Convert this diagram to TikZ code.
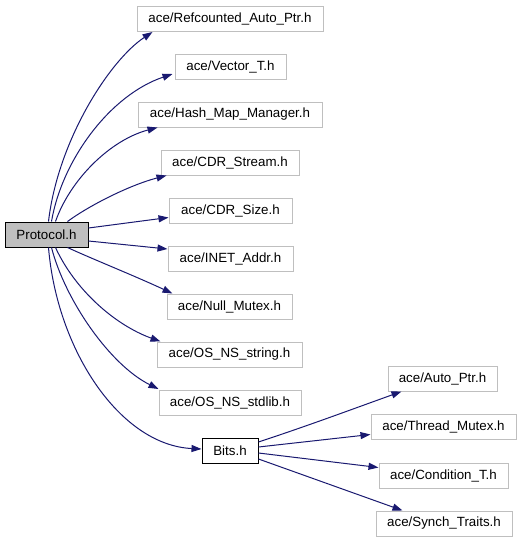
\documentclass[tikz,border=0pt]{standalone}
\usepackage{fontspec}
\setmainfont{Liberation Sans}
\usetikzlibrary{arrows.meta}
\definecolor{edgec}{HTML}{191970}
\definecolor{boxg}{HTML}{BFBFBF}
\begin{document}
\begin{tikzpicture}[x=0.75pt,y=-0.75pt,
  basebox/.style={line width=0.75pt, minimum height=18.75pt, inner sep=0pt, font=\fontsize{10}{12}\selectfont},
  acebox/.style={basebox, draw=boxg},
  mainbox/.style={basebox, draw=black, fill=boxg},
  bitsbox/.style={basebox, draw=black},
  edge/.style={draw=edgec, line width=0.75pt, -{Triangle[length=7.5pt,width=5.25pt]}}
]
\useasboundingbox (0,0) rectangle (520,539);
\node[mainbox, minimum width=62.25pt] (p) at (46.5,234.5) {Protocol.h};
\node[acebox, minimum width=139.5pt] (ref) at (230,19) {ace/Refcounted\_Auto\_Ptr.h};
\node[acebox, minimum width=83.25pt] (vec) at (230.5,67) {ace/Vector\_T.h};
\node[acebox, minimum width=138pt] (hash) at (230,114.5) {ace/Hash\_Map\_Manager.h};
\node[acebox, minimum width=103.5pt] (cdrs) at (230,162.5) {ace/CDR\_Stream.h};
\node[acebox, minimum width=92.25pt] (size) at (230.5,210.5) {ace/CDR\_Size.h};
\node[acebox, minimum width=93.75pt] (inet) at (230.5,259) {ace/INET\_Addr.h};
\node[acebox, minimum width=93.75pt] (null) at (229.5,306.5) {ace/Null\_Mutex.h};
\node[acebox, minimum width=108.75pt] (str) at (229.5,354.5) {ace/OS\_NS\_string.h};
\node[acebox, minimum width=106.5pt] (stdl) at (230,403) {ace/OS\_NS\_stdlib.h};
\node[bitsbox, minimum width=42pt] (bits) at (230,451) {Bits.h};
\node[acebox, minimum width=81.75pt] (auto) at (442.5,378.5) {ace/Auto\_Ptr.h};
\node[acebox, minimum width=108.75pt] (thr) at (443.5,426.5) {ace/Thread\_Mutex.h};
\node[acebox, minimum width=96.75pt] (cond) at (443.5,475.5) {ace/Condition\_T.h};
\node[acebox, minimum width=102pt] (syn) at (444,523.5) {ace/Synch\_Traits.h};

\draw[edge] ([shift={(44,0)}]p.north west) .. controls (58,140) and (110,60) .. ([shift={(16,0)}]ref.south west);
\draw[edge] ([shift={(47,0)}]p.north west) .. controls (62,160) and (110,95) .. ([shift={(-2,-6)}]vec.south west);
\draw[edge] ([shift={(51,0)}]p.north west) .. controls (70,180) and (110,140) .. ([shift={(20,0)}]hash.south west);
\draw[edge] ([shift={(63,0)}]p.north west) .. controls (90,205) and (130,185) .. ([shift={(6,0)}]cdrs.south west);
\draw[edge] ([shift={(0,-6.5)}]p.east) -- ([shift={(0,7)}]size.west);
\draw[edge] ([shift={(0,6.5)}]p.east) -- ([shift={(0,-10)}]inet.west);
\draw[edge] ([shift={(63,0)}]p.south west) .. controls (90,258) and (135,276) .. ([shift={(6,0)}]null.north west);
\draw[edge] ([shift={(51,0)}]p.south west) .. controls (75,290) and (115,325) .. ([shift={(4,0)}]str.north west);
\draw[edge] ([shift={(47,0)}]p.south west) .. controls (65,300) and (110,365) .. ([shift={(0,-1)}]stdl.north west);
\draw[edge] ([shift={(44,0)}]p.south west) .. controls (57,350) and (120,445) .. ([shift={(0,-2)}]bits.west);
\draw[edge] ([shift={(0,4)}]bits.north east) .. controls (310,425) and (350,410) .. ([shift={(14,0)}]auto.south west);
\draw[edge] ([shift={(0,-4)}]bits.east) -- ([shift={(0,8)}]thr.west);
\draw[edge] ([shift={(0,2)}]bits.east) -- ([shift={(0,-8)}]cond.west);
\draw[edge] ([shift={(0,8)}]bits.east) -- ([shift={(27,0)}]syn.north west);
\end{tikzpicture}
\end{document}
